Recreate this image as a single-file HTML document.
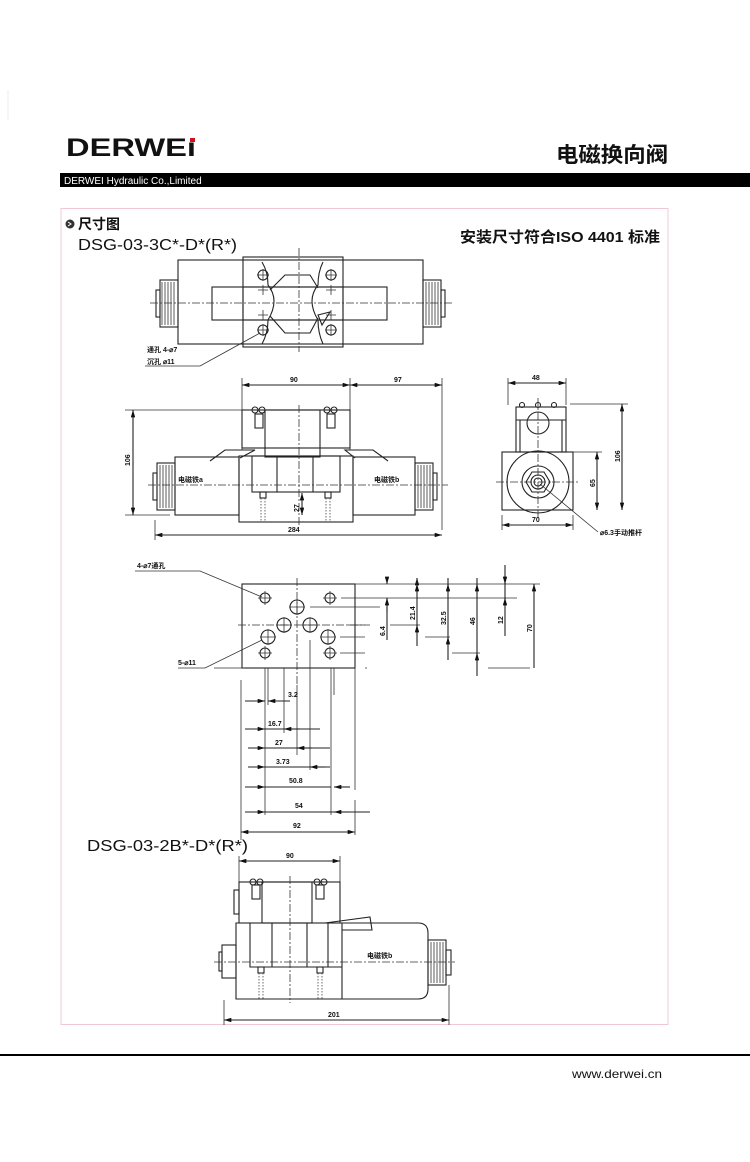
<!DOCTYPE html>
<html><head><meta charset="utf-8"><style>
html,body{margin:0;padding:0;background:#fff;}
svg{display:block;}
text{font-family:"Liberation Sans","Noto Sans CJK SC",sans-serif;fill:#111;}
.l{stroke:#222;stroke-width:1.1;fill:none;}
.t{stroke:#333;stroke-width:0.8;fill:none;}
.c{stroke:#333;stroke-width:0.8;fill:none;stroke-dasharray:8 2 2 2;}
.d{stroke:#444;stroke-width:0.8;fill:none;stroke-dasharray:1.5 1.5;}
.s{font-size:7px;font-weight:bold;}
</style></head><body>
<svg width="750" height="1162" viewBox="0 0 750 1162" xmlns="http://www.w3.org/2000/svg">
<defs>
<marker id="a" viewBox="0 0 10 6" refX="10" refY="3" markerWidth="8" markerHeight="4" orient="auto-start-reverse"><path d="M0,0 L10,3 L0,6z" fill="#111"/></marker>
</defs>
<!-- header -->
<text x="66" y="156" font-size="25" font-weight="bold" textLength="130" lengthAdjust="spacingAndGlyphs" style="font-family:'Liberation Sans',sans-serif">DERWEı</text>
<rect x="190" y="138" width="5" height="4" fill="#d0101a"/>
<text x="556" y="162" font-size="21" font-weight="bold" textLength="112" lengthAdjust="spacingAndGlyphs">电磁换向阀</text>
<rect x="60" y="173" width="690" height="14" fill="#000"/>
<text x="64" y="184" font-size="10" style="fill:#fff">DERWEI Hydraulic Co.,Limited</text>
<rect x="61" y="208.5" width="607" height="816" fill="none" stroke="#f0c8d4" stroke-width="1"/>
<line x1="8" y1="90" x2="8" y2="120" stroke="#eee"/>
<!-- titles -->
<circle cx="70" cy="224" r="4.5" fill="#333"/><path d="M68,222 L71,224 L68,226" stroke="#fff" fill="none" stroke-width="1"/>
<text x="78" y="229" font-size="14" font-weight="bold">尺寸图</text>
<text x="78" y="250" font-size="16" textLength="159" lengthAdjust="spacingAndGlyphs">DSG-03-3C*-D*(R*)</text>
<text x="460" y="242" font-size="15" font-weight="bold" textLength="200" lengthAdjust="spacingAndGlyphs">安装尺寸符合ISO 4401 标准</text>
<text x="87" y="851" font-size="16" textLength="161" lengthAdjust="spacingAndGlyphs">DSG-03-2B*-D*(R*)</text>

<!-- TOP VIEW -->
<g>
<rect class="l" x="178" y="260" width="245" height="84"/>
<rect class="l" x="243" y="257" width="100" height="90" fill="#fff"/>
<rect class="l" x="212" y="287" width="175" height="33" fill="#fff"/>
<rect class="l" x="243" y="287" width="100" height="33" fill="#fff"/>
<path class="l" d="M262,262 Q268,272 268,285 Q280,300 268,320 Q268,333 262,344 M323,262 Q318,272 318,285 Q306,300 318,320 Q318,333 323,344 M270,290 L285,275 L310,275 L318,288 M270,316 L285,333 L310,333 L318,318 M318,315 L330,312 L322,325z"/>
<rect class="l" x="160" y="280" width="18" height="47"/>
<rect class="l" x="156" y="290" width="4" height="27"/>
<rect class="l" x="423" y="280" width="18" height="47"/>
<rect class="l" x="441" y="290" width="4" height="27"/>
<path class="t" d="M162,282 v43 M165,282 v43 M168,282 v43 M171,282 v43 M174,282 v43 M426,282 v43 M429,282 v43 M432,282 v43 M435,282 v43 M438,282 v43"/>
<circle class="l" cx="263" cy="275" r="5"/><circle class="l" cx="331" cy="275" r="5"/>
<circle class="l" cx="263" cy="330" r="5"/><circle class="l" cx="331" cy="330" r="5"/>
<path class="t" d="M257,275h12M263,269v12M325,275h12M331,269v12M257,330h12M263,324v12M325,330h12M331,324v12M258,290h10M263,285v10M326,290h10M331,285v10M258,315h10M263,310v10M326,315h10M331,310v10"/>
<line class="c" x1="150" y1="303" x2="452" y2="303"/>
<line class="c" x1="299" y1="248" x2="299" y2="352"/>
<path class="t" d="M260,333 L200,366 L145,366"/>
<text x="147" y="352" class="s">通孔 4-⌀7</text>
<text x="147" y="364" class="s">沉孔  ⌀11</text>
</g>

<!-- FRONT VIEW -->
<g>
<line class="l" x1="242" y1="385" x2="350" y2="385" marker-start="url(#a)" marker-end="url(#a)"/>
<line class="l" x1="350" y1="385" x2="442" y2="385" marker-start="url(#a)" marker-end="url(#a)"/>
<text x="290" y="382" class="s">90</text><text x="394" y="382" class="s">97</text>
<path class="t" d="M242,378 V450 M350,378 V450 M442,378 V530 M125,410 H242 M125,515 H170 M155,520 V540"/>
<rect class="l" x="242" y="410" width="108" height="38"/>
<rect class="l" x="265" y="410" width="55" height="47" fill="#fff"/>
<rect class="l" x="255" y="414" width="8" height="14"/><rect class="l" x="327" y="414" width="8" height="14"/>
<circle class="l" cx="255" cy="410" r="3"/><circle class="l" cx="262" cy="410" r="3"/><circle class="l" cx="327" cy="410" r="3"/><circle class="l" cx="334" cy="410" r="3"/>
<rect class="l" x="175" y="457" width="64" height="58"/>
<rect class="l" x="353" y="457" width="62" height="58"/>
<rect class="l" x="239" y="456" width="114" height="66" fill="#fff"/>
<rect class="l" x="252" y="456" width="88" height="36"/>
<line class="l" x1="277" y1="456" x2="277" y2="492"/><line class="l" x1="313" y1="456" x2="313" y2="492"/>
<path class="l" d="M210,461 L225,450 L255,450 L240,458 M388,461 L373,450 L345,450 L355,458"/>
<rect class="l" x="157" y="463" width="18" height="47"/><rect class="l" x="153" y="473" width="4" height="27"/>
<rect class="l" x="415" y="463" width="18" height="47"/><rect class="l" x="433" y="473" width="4" height="27"/>
<path class="t" d="M160,465v43M163,465v43M166,465v43M169,465v43M172,465v43M418,465v43M421,465v43M424,465v43M427,465v43M430,465v43"/>
<rect class="l" x="260" y="492" width="6" height="6"/><rect class="l" x="325" y="492" width="6" height="6"/>
<path class="d" d="M261,498V522M265,498V522M326,498V522M330,498V522"/>
<line class="c" x1="148" y1="485" x2="448" y2="485"/>
<line class="c" x1="299" y1="405" x2="299" y2="525"/>
<line class="l" x1="133" y1="410" x2="133" y2="515" marker-start="url(#a)" marker-end="url(#a)"/>
<text transform="translate(130,466) rotate(-90)" class="s">106</text>
<line class="l" x1="302" y1="493" x2="302" y2="515" marker-start="url(#a)" marker-end="url(#a)"/>
<text transform="translate(299,512) rotate(-90)" class="s">27</text>
<line class="l" x1="155" y1="535" x2="442" y2="535" marker-start="url(#a)" marker-end="url(#a)"/>
<text x="288" y="532" class="s">284</text>
<text x="178" y="482" class="s">电磁铁a</text><text x="374" y="482" class="s">电磁铁b</text>
</g>

<!-- SIDE VIEW -->
<g>
<line class="l" x1="508" y1="383" x2="566" y2="383" marker-start="url(#a)" marker-end="url(#a)"/>
<text x="532" y="380" class="s">48</text>
<path class="t" d="M508,378V405M566,378V405M570,404H628M570,452H602M502,515V530M573,515V530"/>
<rect class="l" x="516" y="407" width="50" height="45"/>
<path class="l" d="M520,420 V452 M562,420 V452 M516,420 H566"/>
<circle class="l" cx="538" cy="423" r="11"/>
<circle class="l" cx="522" cy="405" r="2.5"/><circle class="l" cx="538" cy="405" r="2.5"/><circle class="l" cx="554" cy="405" r="2.5"/>
<rect class="l" x="502" y="452" width="71" height="58"/>
<circle class="l" cx="538" cy="482" r="31"/>
<circle class="l" cx="538" cy="482" r="16"/>
<polygon class="l" points="550,482 544,492 532,492 526,482 532,472 544,472"/>
<circle class="l" cx="538" cy="482" r="7"/><circle class="l" cx="538" cy="482" r="4"/>
<line class="c" x1="496" y1="482" x2="580" y2="482"/>
<line class="c" x1="538" y1="398" x2="538" y2="518"/>
<line class="l" x1="622" y1="404" x2="622" y2="510" marker-start="url(#a)" marker-end="url(#a)"/>
<text transform="translate(620,462) rotate(-90)" class="s">106</text>
<line class="l" x1="597" y1="452" x2="597" y2="510" marker-start="url(#a)" marker-end="url(#a)"/>
<text transform="translate(595,487) rotate(-90)" class="s">65</text>
<line class="l" x1="502" y1="525" x2="573" y2="525" marker-start="url(#a)" marker-end="url(#a)"/>
<text x="532" y="522" class="s">70</text>
<path class="t" d="M540,484 L598,532"/>
<text x="600" y="535" class="s">⌀6.3手动推杆</text>
</g>

<!-- SUBPLATE -->
<g>
<rect class="l" x="242" y="584" width="113" height="84"/>
<g class="l">
<circle cx="265" cy="598" r="5"/><circle cx="330" cy="598" r="5"/><circle cx="265" cy="653" r="5"/><circle cx="330" cy="653" r="5"/>
<circle cx="297" cy="607" r="7"/><circle cx="284" cy="625" r="7"/><circle cx="310" cy="625" r="7"/><circle cx="268" cy="637" r="7"/><circle cx="328" cy="637" r="7"/>
</g>
<path class="t" d="M258,598h14M265,591v14M323,598h14M330,591v14M258,653h14M265,646v14M323,653h14M330,646v14M289,607h16M297,599v16M276,625h16M284,617v16M302,625h16M310,617v16M260,637h16M268,629v16M320,637h16M328,629v16"/>
<line class="c" x1="238" y1="625" x2="370" y2="625"/>
<line class="c" x1="297" y1="578" x2="297" y2="685"/>
<path class="t" d="M355,584H540 M341,598H517 M310,607H380 M348,625H365 M390,625H420 M340,637H365 M425,637H450 M340,653H365 M452,653H480 M365,668H367 M488,668H530 M214,668H245"/>
<line class="l" x1="387" y1="578" x2="387" y2="584" marker-end="url(#a)"/>
<line class="l" x1="387" y1="598" x2="387" y2="640"/>
<line class="l" x1="387" y1="612" x2="387" y2="598" marker-end="url(#a)"/>
<text transform="translate(385,636) rotate(-90)" class="s">6.4</text>
<line class="l" x1="417" y1="578" x2="417" y2="646" marker-start="url(#a)"/>
<path class="l" d="M417,578 V584"/>
<line class="l" x1="417" y1="592" x2="417" y2="584" marker-end="url(#a)"/>
<line class="l" x1="417" y1="633" x2="417" y2="625" marker-end="url(#a)"/>
<text transform="translate(415,620) rotate(-90)" class="s">21.4</text>
<line class="l" x1="448" y1="578" x2="448" y2="660"/>
<line class="l" x1="448" y1="592" x2="448" y2="584" marker-end="url(#a)"/>
<line class="l" x1="448" y1="645" x2="448" y2="637" marker-end="url(#a)"/>
<text transform="translate(446,625) rotate(-90)" class="s">32.5</text>
<line class="l" x1="477" y1="578" x2="477" y2="676"/>
<line class="l" x1="477" y1="592" x2="477" y2="584" marker-end="url(#a)"/>
<line class="l" x1="477" y1="661" x2="477" y2="653" marker-end="url(#a)"/>
<text transform="translate(475,625) rotate(-90)" class="s">46</text>
<line class="l" x1="505" y1="565" x2="505" y2="636"/>
<line class="l" x1="505" y1="576" x2="505" y2="584" marker-end="url(#a)"/>
<line class="l" x1="505" y1="606" x2="505" y2="598" marker-end="url(#a)"/>
<text transform="translate(503,624) rotate(-90)" class="s">12</text>
<line class="l" x1="534" y1="668" x2="534" y2="584" marker-end="url(#a)"/>
<text transform="translate(532,632) rotate(-90)" class="s">70</text>
<path class="t" d="M135,571 H200 L262,597"/>
<text x="137" y="568" class="s">4-⌀7通孔</text>
<path class="t" d="M178,668 H205 L262,640"/>
<text x="178" y="665" class="s">5-⌀11</text>
<path class="t" d="M241,680V840 M265,668V815 M268,668V705 M284,668V733 M310,640V770 M297,685V755 M331,668V815 M334,668V695 M355,668V790 M355,800V835"/>
<line class="l" x1="245" y1="701" x2="265" y2="701" marker-end="url(#a)"/><line class="l" x1="290" y1="701" x2="268" y2="701" marker-end="url(#a)"/>
<text x="288" y="697" class="s">3.2</text>
<line class="l" x1="245" y1="729" x2="265" y2="729" marker-end="url(#a)"/><line class="l" x1="265" y1="729" x2="320" y2="729"/><line class="l" x1="300" y1="729" x2="284" y2="729" marker-end="url(#a)"/>
<text x="268" y="726" class="s">16.7</text>
<line class="l" x1="248" y1="748" x2="265" y2="748" marker-end="url(#a)"/><line class="l" x1="265" y1="748" x2="330" y2="748"/><line class="l" x1="312" y1="748" x2="297" y2="748" marker-end="url(#a)"/>
<text x="275" y="745" class="s">27</text>
<line class="l" x1="248" y1="767" x2="265" y2="767" marker-end="url(#a)"/><line class="l" x1="265" y1="767" x2="330" y2="767"/><line class="l" x1="325" y1="767" x2="310" y2="767" marker-end="url(#a)"/>
<text x="276" y="764" class="s">3.73</text>
<line class="l" x1="245" y1="787" x2="265" y2="787" marker-end="url(#a)"/><line class="l" x1="265" y1="787" x2="331" y2="787"/><line class="l" x1="350" y1="787" x2="334" y2="787" marker-end="url(#a)"/>
<text x="289" y="783" class="s">50.8</text>
<line class="l" x1="245" y1="812" x2="265" y2="812" marker-end="url(#a)"/><line class="l" x1="265" y1="812" x2="370" y2="812"/><line class="l" x1="350" y1="812" x2="334" y2="812" marker-end="url(#a)"/>
<text x="295" y="808" class="s">54</text>
<line class="l" x1="241" y1="832" x2="355" y2="832" marker-start="url(#a)" marker-end="url(#a)"/>
<text x="293" y="828" class="s">92</text>
</g>

<!-- BOTTOM VIEW -->
<g>
<line class="l" x1="239" y1="861" x2="340" y2="861" marker-start="url(#a)" marker-end="url(#a)"/>
<text x="286" y="858" class="s">90</text>
<path class="t" d="M239,856V882M340,856V882M224,1000V1025M449,985V1025"/>
<rect class="l" x="239" y="882" width="101" height="41"/>
<rect class="l" x="234" y="890" width="5" height="24"/>
<rect class="l" x="262" y="882" width="50" height="41" fill="#fff"/>
<rect class="l" x="252" y="885" width="8" height="14"/><rect class="l" x="316" y="885" width="8" height="14"/>
<circle class="l" cx="253" cy="882" r="3"/><circle class="l" cx="260" cy="882" r="3"/><circle class="l" cx="317" cy="882" r="3"/><circle class="l" cx="324" cy="882" r="3"/>
<path class="l" d="M236,923 H418 Q428,923 428,933 V989 Q428,999 418,999 H236z"/>
<path class="l" d="M250,923V967H342V923M272,923V967M307,923V967M342,923V999M328,923V967M325,923 L370,917 L372,930 L342,930"/>
<rect class="l" x="222" y="945" width="14" height="33"/><rect class="l" x="219" y="952" width="3" height="19"/>
<rect class="l" x="428" y="940" width="18" height="45"/><rect class="l" x="446" y="950" width="5" height="25"/>
<path class="t" d="M431,942v41M434,942v41M437,942v41M440,942v41M443,942v41"/>
<rect class="l" x="258" y="967" width="6" height="6"/><rect class="l" x="317" y="967" width="6" height="6"/>
<path class="d" d="M259,973V999M263,973V999M318,973V999M322,973V999"/>
<line class="c" x1="214" y1="962" x2="455" y2="962"/>
<line class="c" x1="290" y1="876" x2="290" y2="1003"/>
<line class="l" x1="224" y1="1020" x2="449" y2="1020" marker-start="url(#a)" marker-end="url(#a)"/>
<text x="328" y="1017" class="s">201</text>
<text x="367" y="958" class="s">电磁铁b</text>
</g>

<!-- footer -->
<rect x="0" y="1054" width="750" height="2" fill="#000"/>
<text x="572" y="1078" font-size="12" textLength="90" lengthAdjust="spacingAndGlyphs">www.derwei.cn</text>
</svg>
</body></html>
